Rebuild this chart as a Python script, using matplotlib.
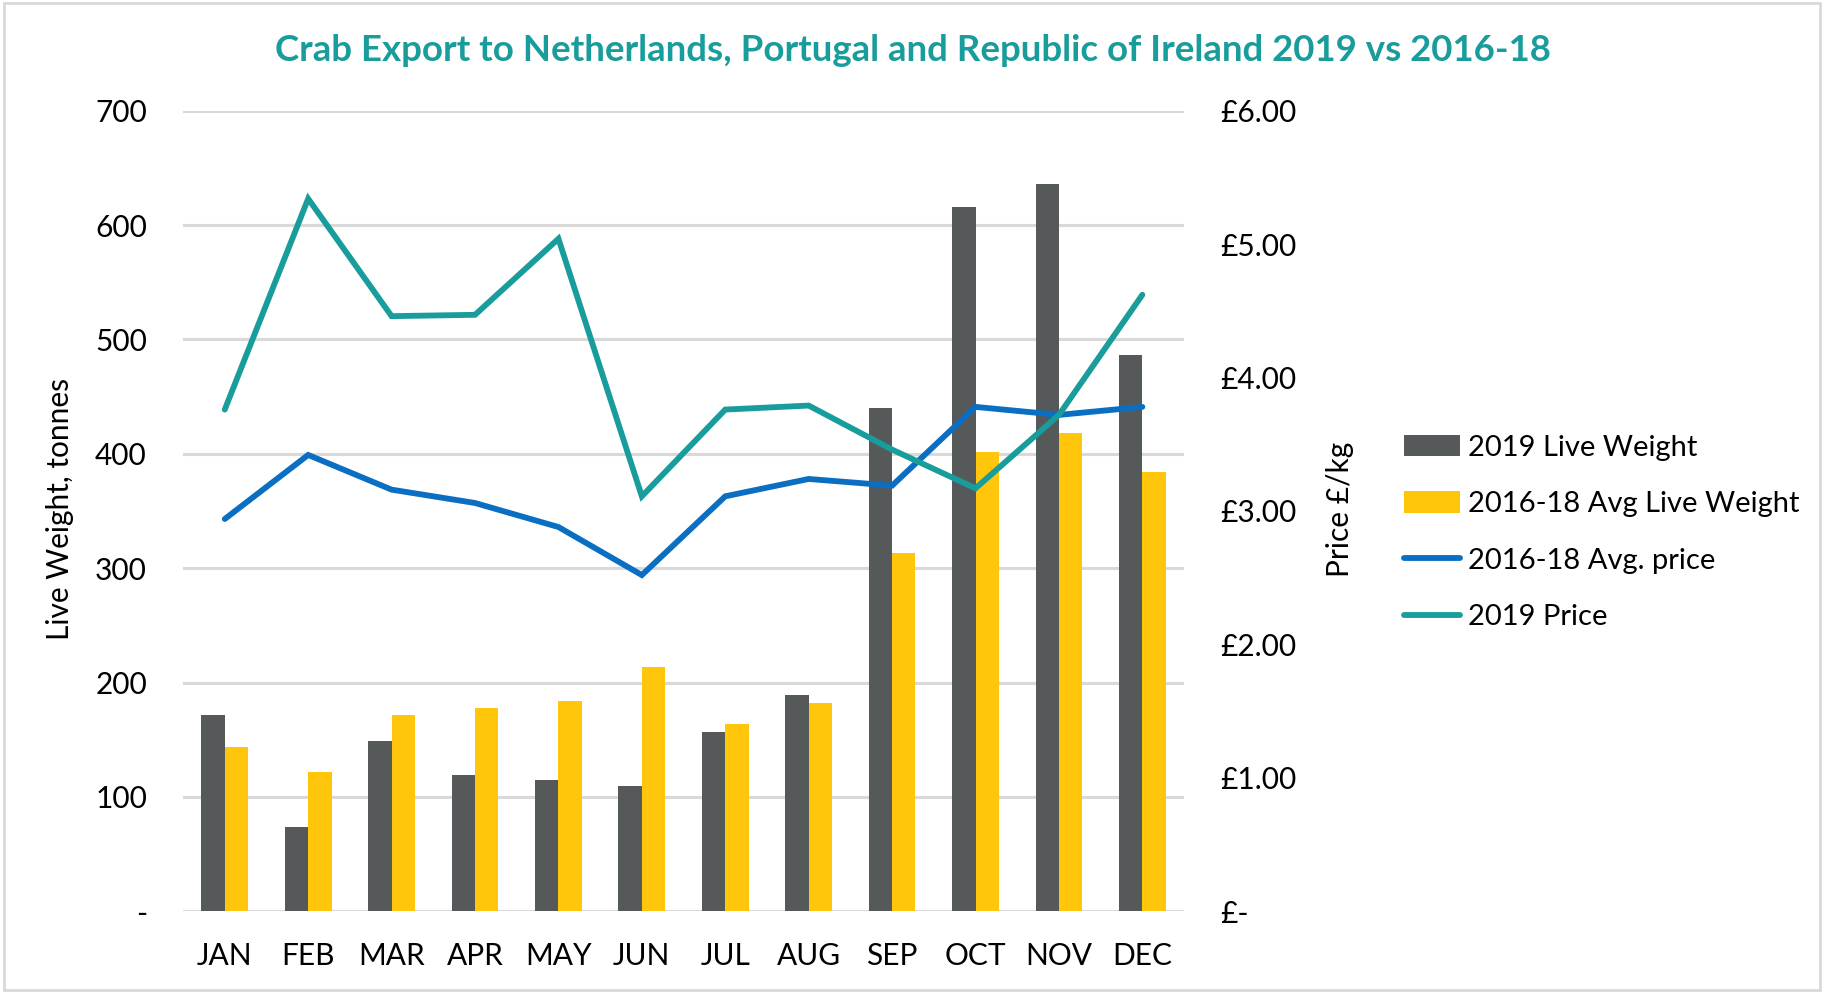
import matplotlib
matplotlib.use("Agg")
import matplotlib.pyplot as plt
import numpy as np
from matplotlib.patches import Rectangle

plt.rcParams['font.family'] = ['Lato', 'DejaVu Sans']

months = ["JAN", "FEB", "MAR", "APR", "MAY", "JUN", "JUL", "AUG", "SEP", "OCT", "NOV", "DEC"]
weight_2019 = [172, 74, 149, 119, 115, 110, 157, 189, 440, 616, 636, 486]
weight_avg = [144, 122, 172, 178, 184, 214, 164, 182, 313, 402, 418, 384]
price_avg = [2.94, 3.42, 3.16, 3.06, 2.88, 2.52, 3.11, 3.24, 3.19, 3.78, 3.72, 3.78]
price_2019 = [3.76, 5.34, 4.46, 4.47, 5.04, 3.11, 3.76, 3.79, 3.46, 3.17, 3.72, 4.62]

left_ticks = [0, 100, 200, 300, 400, 500, 600, 700]
right_ticks = [0, 1, 2, 3, 4, 5, 6]

dark = "#56595A"
yellow = "#FFC60B"
blue = "#0A6FC2"
teal = "#199C9C"
grid = "#D9D9D9"

fig = plt.figure(figsize=(18.25, 9.93), dpi=100)
fig.patches.append(Rectangle((0.002, 0.003), 0.995, 0.994, transform=fig.transFigure,
                             fill=False, edgecolor=grid, linewidth=2))

ax = fig.add_axes([0.1003, 0.0822, 0.5485, 0.8064])
x = np.arange(len(months))
w = 0.28
b1 = ax.bar(x - w / 2, weight_2019, w, color=dark, label="2019 Live Weight", zorder=2)
b2 = ax.bar(x + w / 2, weight_avg, w, color=yellow, label="2016-18 Avg Live Weight", zorder=2)
ax.set_ylim(0, 700)
ax.set_xlim(-0.5, 11.5)
ax.set_yticks(left_ticks)
ax.set_yticklabels(["-" if t == 0 else str(t) for t in left_ticks])
ax.set_xticks(x)
ax.set_xticklabels(months)
ax.grid(axis="y", color=grid, linewidth=2.2, zorder=0)
ax.set_axisbelow(True)
for s in ax.spines.values():
    s.set_visible(False)
ax.tick_params(axis="both", length=0, labelsize=21.5)
ax.tick_params(axis="y", pad=26)
ax.tick_params(axis="x", pad=22)

ax2 = ax.twinx()
l1, = ax2.plot(x, price_avg, color=blue, linewidth=4.2, label="2016-18 Avg. price",
               solid_capstyle="round", solid_joinstyle="miter")
l2, = ax2.plot(x, price_2019, color=teal, linewidth=4.2, label="2019 Price",
               solid_capstyle="round", solid_joinstyle="miter")
ax2.set_ylim(0, 6)
ax2.set_yticks(right_ticks)
ax2.set_yticklabels(["£-" if t == 0 else "£{:.2f}".format(t) for t in right_ticks])
for s in ax2.spines.values():
    s.set_visible(False)
ax2.tick_params(axis="y", length=0, labelsize=21.5, pad=26)

fig.text(0.033, 0.487, "Live Weight, tonnes", rotation=90, fontsize=21.5, ha="center", va="center")
fig.text(0.734, 0.487, "Price £/kg", rotation=90, fontsize=21.5, ha="center", va="center")

fig.text(0.5, 0.949, "Crab Export to Netherlands, Portugal and Republic of Ireland 2019 vs 2016-18",
         color=teal, fontsize=26.4, fontweight="bold", ha="center", va="center")

fig.legend(handles=[b1, b2, l1, l2], loc="center left", bbox_to_anchor=(0.7615, 0.4637),
           frameon=False, fontsize=21, handlelength=1.9, handleheight=0.75,
           handletextpad=0.3, labelspacing=1.05, borderpad=0)

fig.savefig("out.png", dpi=100)
